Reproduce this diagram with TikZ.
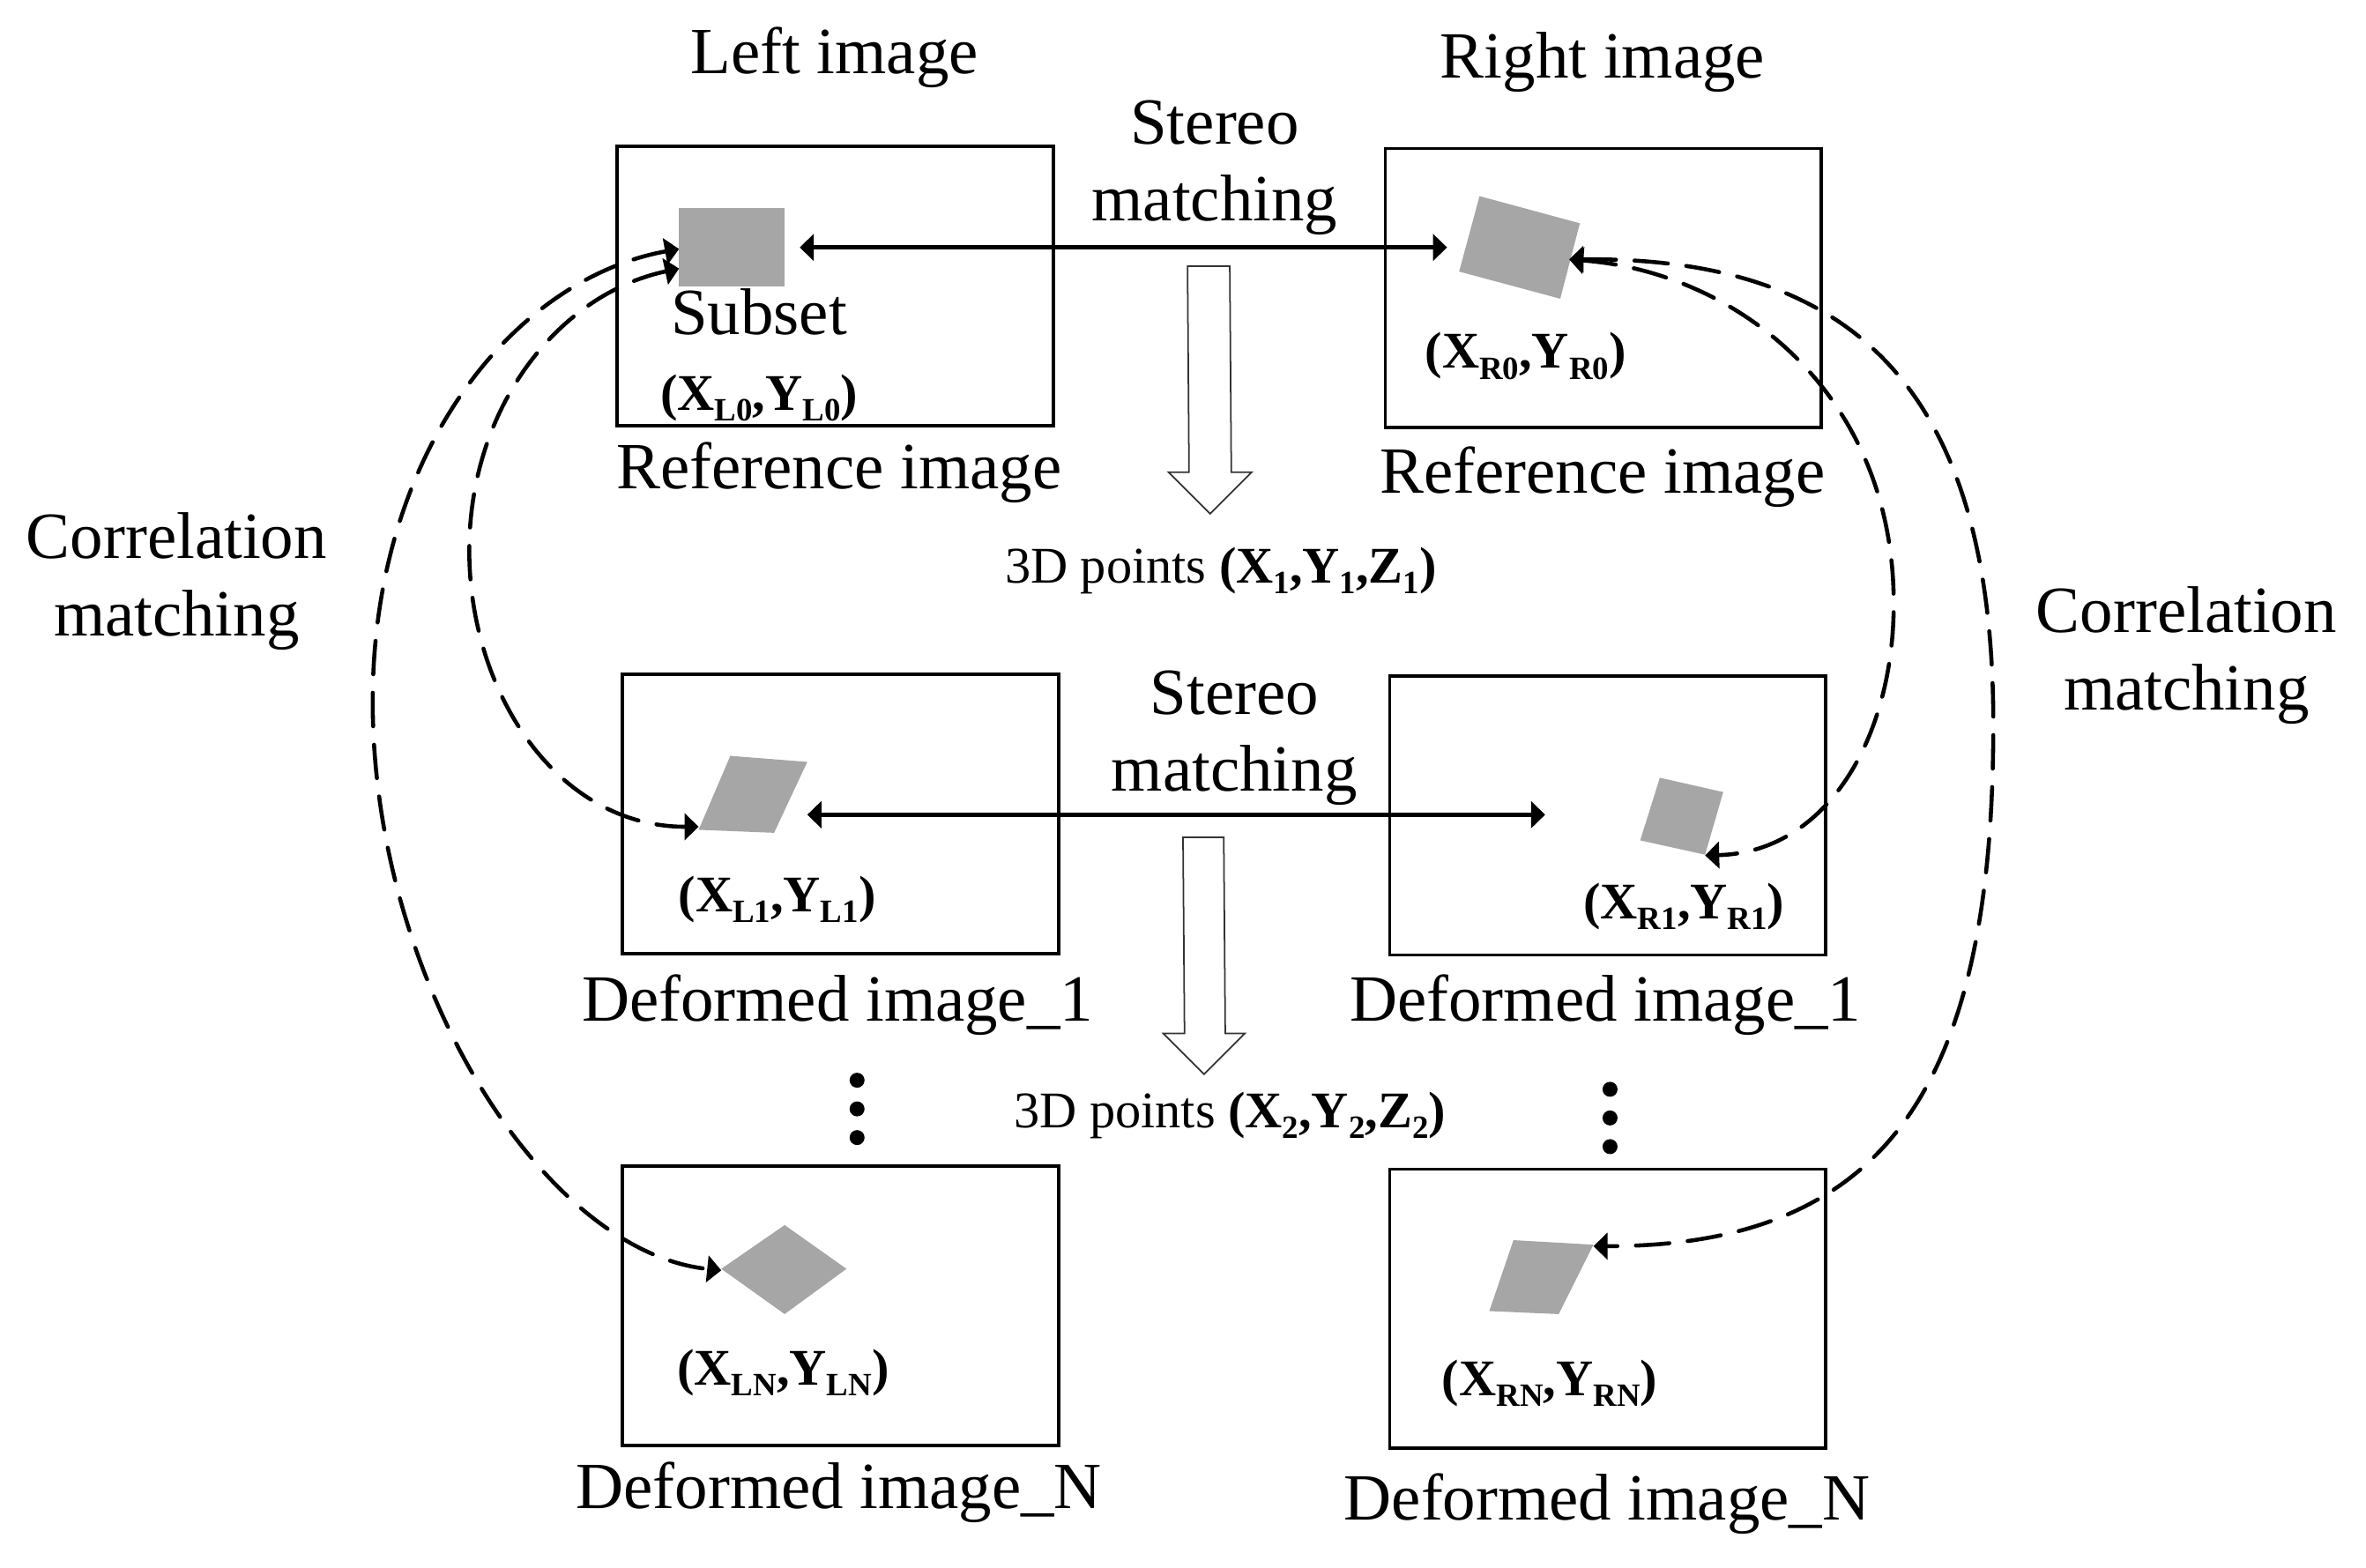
\documentclass[tikz,border=0pt]{standalone}
\usepackage{fontspec}
\setmainfont{Liberation Serif}
\usetikzlibrary{arrows.meta}

\newcommand{\lowpart}[1]{\raisebox{-0.45ex}{\fontsize{10.5}{12}\selectfont #1}}
\newcommand{\ptlabel}[1]{\textbf{(X\lowpart{#1},Y\lowpart{#1})}}

\tikzset{
	image box/.style={draw, line width=1.05pt, minimum width=4.948cm, minimum height=3.167cm, inner sep=0pt},
	big text/.style={font=\fontsize{21.3}{25}\selectfont, inner sep=0pt},
	small text/.style={font=\fontsize{16.6}{20}\selectfont, inner sep=0pt},
	patch/.style={fill=black!35, draw=none},
	hollow arrow/.style={draw=black!80, line width=0.5pt, fill=white},
	stereo/.style={line width=1.4pt, {Triangle[length=0.16cm,width=0.3cm]}-{Triangle[length=0.16cm,width=0.3cm]}},
	corr/.style={line width=1.3pt, line cap=round, dash pattern=on 0.38cm off 0.21cm, {Triangle[length=0.16cm,width=0.3cm]}-{Triangle[length=0.16cm,width=0.3cm]}},
	dot/.style={circle, fill=black, inner sep=0pt, minimum size=0.17cm}
}

\begin{document}
\begin{tikzpicture}[x=0.01712cm, y=-0.01712cm]
	\useasboundingbox (0, 0) rectangle (1568, 1039);

	\node [image box] (boxL0) at (553.5, 189.5) {};
	\node [image box] (boxL1) at (557, 539.5) {};
	\node [image box] (boxLN) at (557, 865.5) {};
	\node [image box] (boxR0) at (1062.5, 191) {};
	\node [image box] (boxR1) at (1065.5, 540.5) {};
	\node [image box] (boxRN) at (1065.5, 867.5) {};

	\node [big text] (titleL) at (553, 38) {Left image};
	\node [big text] (titleR) at (1062, 41) {Right image};
	\node [big text] (stereoA) at (805, 81) {Stereo};
	\node [big text] (matchA) at (805, 136) {matching};
	\node [big text] (stereoB) at (818, 459) {Stereo};
	\node [big text] (matchB) at (818, 514) {matching};
	\node [big text] (subset) at (503, 207) {Subset};
	\node [big text] (capL0) at (556, 313) {Reference image};
	\node [big text] (capR0) at (1062, 316) {Reference image};
	\node [big text] (capL1) at (555, 666) {Deformed image\_1};
	\node [big text] (capR1) at (1064, 666) {Deformed image\_1};
	\node [big text] (capLN) at (556, 989) {Deformed image\_N};
	\node [big text] (capRN) at (1065, 997) {Deformed image\_N};
	\node [big text] (corrL1) at (117, 355) {Correlation};
	\node [big text] (corrL2) at (117, 411) {matching};
	\node [big text] (corrR1) at (1449, 404) {Correlation};
	\node [big text] (corrR2) at (1449, 460) {matching};

	\node [small text] (ptL0) at (503, 264) {\ptlabel{L0}};
	\node [small text] (ptR0) at (1011, 236) {\ptlabel{R0}};
	\node [small text] (ptL1) at (515, 596) {\ptlabel{L1}};
	\node [small text] (ptR1) at (1116, 601) {\ptlabel{R1}};
	\node [small text] (ptLN) at (519, 910) {\ptlabel{LN}};
	\node [small text] (ptRN) at (1027, 917) {\ptlabel{RN}};
	\node [small text] (pts1) at (809, 378) {3D points \textbf{(X\lowpart{1},Y\lowpart{1},Z\lowpart{1})}};
	\node [small text] (pts2) at (815, 739) {3D points \textbf{(X\lowpart{2},Y\lowpart{2},Z\lowpart{2})}};

	\fill [patch] (450, 138) rectangle (520, 190);
	\fill [patch] (980.5, 130) -- (1047, 148) -- (1034, 198) -- (967, 180) -- cycle;
	\fill [patch] (484, 501) -- (535, 505) -- (513, 552) -- (463, 550) -- cycle;
	\fill [patch] (1100, 515.5) -- (1142, 525) -- (1130, 566.5) -- (1087, 557) -- cycle;
	\fill [patch] (520, 812) -- (561, 841) -- (520, 871) -- (478, 841) -- cycle;
	\fill [patch] (1003, 822) -- (1056, 825) -- (1033, 871) -- (987, 869) -- cycle;

	\draw [hollow arrow] (787, 176.5) -- (815, 176.5) -- (816, 313) -- (829.5, 313) -- (802, 340.5)
		-- (774.5, 313) -- (788, 313) -- cycle;
	\draw [hollow arrow] (784, 555) -- (811, 555) -- (812, 685) -- (825, 685) -- (798, 712)
		-- (771, 685) -- (785, 685) -- cycle;

	\coordinate (inL0) at (530, 164);
	\coordinate (inR0) at (959, 164);
	\coordinate (inL1) at (535, 540);
	\coordinate (inR1) at (1024, 540);
	\draw [stereo] (inL0) -- (inR0);
	\draw [stereo] (inL1) -- (inR1);

	\coordinate (outerL) at (450, 165);
	\coordinate (innerL) at (450, 178);
	\coordinate (tipL1) at (463, 548);
	\coordinate (tipLN) at (478, 842);
	\coordinate (tipR0) at (1040, 172);
	\coordinate (tipR1) at (1130, 567);
	\coordinate (tipRN) at (1056, 826);

	\draw [corr] (outerL) .. controls (340, 185) and (247, 300) .. (247, 465)
		.. controls (247, 650) and (360, 830) .. (tipLN);
	\draw [corr] (innerL) .. controls (370, 195) and (311, 270) .. (311, 365)
		.. controls (311, 460) and (370, 548) .. (tipL1);
	\draw [corr] (tipR0) .. controls (1150, 180) and (1255, 260) .. (1255, 400)
		.. controls (1255, 490) and (1210, 565) .. (tipR1);
	\draw [corr] (tipR0) .. controls (1230, 170) and (1321, 260) .. (1321, 480)
		.. controls (1321, 720) and (1250, 826) .. (tipRN);

	\foreach \i/\y in {1/716, 2/735, 3/754}
		\node [dot] (dotL\i) at (568, \y) {};
	\foreach \i/\y in {1/722, 2/741, 3/760}
		\node [dot] (dotR\i) at (1067, \y) {};
\end{tikzpicture}
\end{document}
